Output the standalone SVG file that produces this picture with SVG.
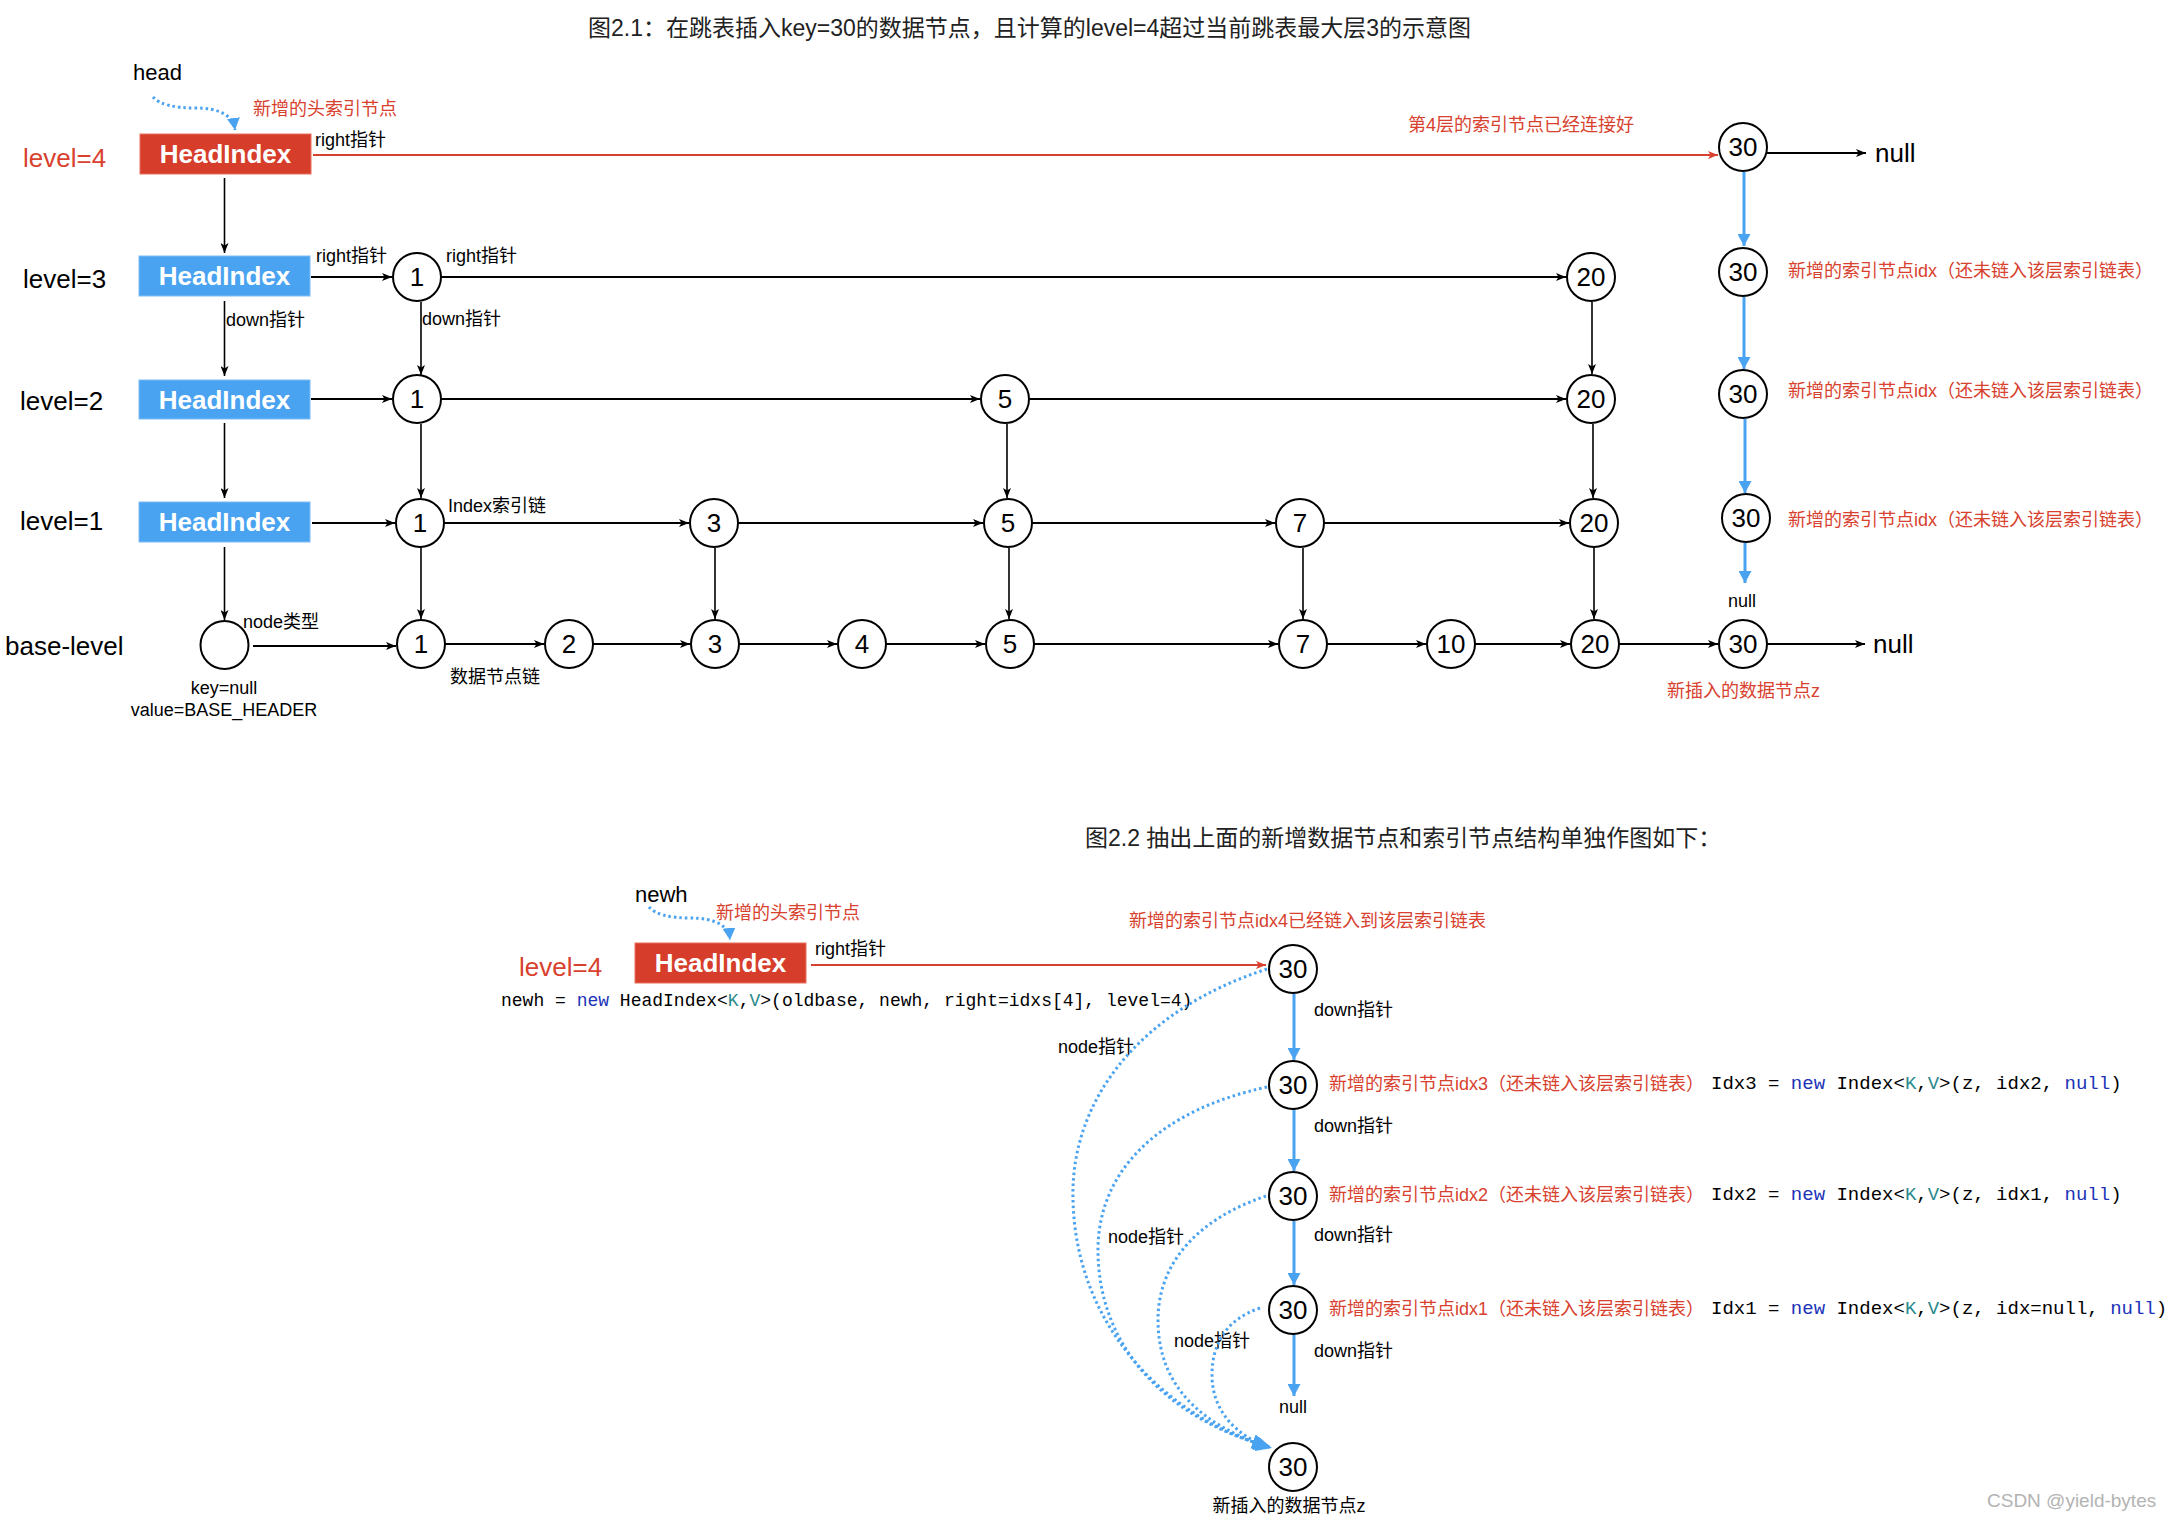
<svg xmlns="http://www.w3.org/2000/svg" width="2173" height="1521" viewBox="0 0 2173 1521">
<style>
text{font-family:"Liberation Sans","Noto Sans CJK SC",sans-serif;fill:#000}
.title{font-size:23px;fill:#222}
.title2{font-size:23px;fill:#222}
.lv{font-size:26px}
.red{fill:#d8412e}
.s18{font-size:18px}
.s175{font-size:18px}
.big{font-size:26px}
.num{font-size:26px;text-anchor:middle}
.hi{font-size:26px;font-weight:bold;fill:#fff;text-anchor:middle}
.mono{font-family:"Liberation Mono","Noto Sans CJK SC",monospace}
.kw{fill:#2033b8}
.ty{fill:#2a8a8c}
.node circle{fill:#fff;stroke:#000;stroke-width:2}
.boxr{fill:#d63d2b;stroke:#e8705f;stroke-width:1}
.boxb{fill:#4aa3f0;stroke:#7cbcf5;stroke-width:1}
.k{stroke:#000;stroke-width:1.8;fill:none}
.kv{stroke:#000;stroke-width:1.6;fill:none}
.r{stroke:#d8412e;stroke-width:2;fill:none}
.b{stroke:#4aa3f0;stroke-width:3;fill:none}
.d{stroke:#4aa3f0;stroke-width:3;fill:none;stroke-dasharray:2.5 3}
</style>
<defs>
<marker id="ak" viewBox="0 0 10 8" refX="10" refY="4" markerWidth="10" markerHeight="8" markerUnits="userSpaceOnUse" orient="auto"><path d="M0,0 L10,4 L0,8 L2.5,4 z" fill="#000"/></marker>
<marker id="ar" viewBox="0 0 10 8" refX="10" refY="4" markerWidth="10" markerHeight="8" markerUnits="userSpaceOnUse" orient="auto"><path d="M0,0 L10,4 L0,8 L2.5,4 z" fill="#d8412e"/></marker>
<marker id="ab" viewBox="0 0 12 13" refX="12" refY="6.5" markerWidth="12" markerHeight="13" markerUnits="userSpaceOnUse" orient="auto"><path d="M0,0 L12,6.5 L0,13 z" fill="#4aa3f0"/></marker>
<marker id="ab2" viewBox="0 0 16 15" refX="16" refY="7.5" markerWidth="16" markerHeight="15" markerUnits="userSpaceOnUse" orient="auto"><path d="M0,0 L16,7.5 L0,15 z" fill="#4aa3f0"/></marker>
</defs>

<!-- titles and free labels -->
<text class="title" x="588" y="36">图2.1：在跳表插入key=30的数据节点，且计算的level=4超过当前跳表最大层3的示意图</text>
<text class="title2" x="1085" y="846">图2.2 抽出上面的新增数据节点和索引节点结构单独作图如下：</text>

<text x="133" y="80" style="font-size:22px">head</text>
<text class="s18 red" x="253" y="115">新增的头索引节点</text>
<text class="lv red" x="23" y="167">level=4</text>
<text class="lv" x="23" y="288">level=3</text>
<text class="lv" x="20" y="410">level=2</text>
<text class="lv" x="20" y="530">level=1</text>
<text class="lv" x="5" y="655">base-level</text>
<text class="s18" x="315" y="146">right指针</text>
<text class="s18" x="316" y="262">right指针</text>
<text class="s18" x="446" y="262">right指针</text>
<text class="s18" x="226" y="326">down指针</text>
<text class="s18" x="422" y="325">down指针</text>
<text class="s18" x="448" y="512">Index索引链</text>
<text class="s18" x="243" y="628">node类型</text>
<text class="s18" x="450" y="683">数据节点链</text>
<text class="s18" x="224" y="694" text-anchor="middle">key=null</text>
<text class="s18" x="224" y="716" text-anchor="middle">value=BASE_HEADER</text>
<text class="s18 red" x="1408" y="131">第4层的索引节点已经连接好</text>
<text class="big" x="1875" y="162">null</text>
<text class="s175 red" x="1788" y="277">新增的索引节点idx（还未链入该层索引链表）</text>
<text class="s175 red" x="1788" y="397">新增的索引节点idx（还未链入该层索引链表）</text>
<text class="s175 red" x="1788" y="526">新增的索引节点idx（还未链入该层索引链表）</text>
<text class="s18" x="1742" y="607" text-anchor="middle">null</text>
<text class="big" x="1873" y="653">null</text>
<text class="s18 red" x="1667" y="697">新插入的数据节点z</text>

<!-- lower diagram labels -->
<text x="635" y="902" style="font-size:22px">newh</text>
<text class="s18 red" x="716" y="919">新增的头索引节点</text>
<text class="lv red" x="519" y="976">level=4</text>
<text class="s18" x="815" y="955">right指针</text>
<text class="mono s18" x="501" y="1006">newh = <tspan class="kw">new</tspan> HeadIndex&lt;<tspan class="ty">K</tspan>,<tspan class="ty">V</tspan>&gt;(oldbase, newh, right=idxs[4], level=4)</text>
<text class="s18 red" x="1129" y="927">新增的索引节点idx4已经链入到该层索引链表</text>
<text class="s18" x="1314" y="1016">down指针</text>
<text class="s18" x="1314" y="1132">down指针</text>
<text class="s18" x="1314" y="1241">down指针</text>
<text class="s18" x="1314" y="1357">down指针</text>
<text class="s175 red" x="1329" y="1090">新增的索引节点idx3（还未链入该层索引链表）</text>
<text class="s175 red" x="1329" y="1201">新增的索引节点idx2（还未链入该层索引链表）</text>
<text class="s175 red" x="1329" y="1315">新增的索引节点idx1（还未链入该层索引链表）</text>
<text class="mono" style="font-size:19px" x="1711" y="1089">Idx3 = <tspan class="kw">new</tspan> Index&lt;<tspan class="ty">K</tspan>,<tspan class="ty">V</tspan>&gt;(z, idx2, <tspan class="kw">null</tspan>)</text>
<text class="mono" style="font-size:19px" x="1711" y="1200">Idx2 = <tspan class="kw">new</tspan> Index&lt;<tspan class="ty">K</tspan>,<tspan class="ty">V</tspan>&gt;(z, idx1, <tspan class="kw">null</tspan>)</text>
<text class="mono" style="font-size:19px" x="1711" y="1314">Idx1 = <tspan class="kw">new</tspan> Index&lt;<tspan class="ty">K</tspan>,<tspan class="ty">V</tspan>&gt;(z, idx=null, <tspan class="kw">null</tspan>)</text>
<text class="s18" x="1058" y="1053">node指针</text>
<text class="s18" x="1108" y="1243">node指针</text>
<text class="s18" x="1174" y="1347">node指针</text>
<text class="s18" x="1293" y="1413" text-anchor="middle">null</text>
<text class="s18" x="1289" y="1512" text-anchor="middle">新插入的数据节点z</text>
<text x="1987" y="1507" style="font-size:19px;fill:#b3b3b3">CSDN @yield-bytes</text>

<!-- connectors -->
<g id="connectors">
  <path class="d" d="M153,97 Q163,108 195,108 Q232,108 235,130" marker-end="url(#ab)"/>
  <path class="r" d="M313,155 H1718" marker-end="url(#ar)"/>
  <path class="k" d="M1767,153 H1866" marker-end="url(#ak)"/>
  <path class="kv" d="M224.5,178 V253" marker-end="url(#ak)"/>
  <path class="kv" d="M224.5,301 V376" marker-end="url(#ak)"/>
  <path class="kv" d="M224.5,423 V498" marker-end="url(#ak)"/>
  <path class="kv" d="M224.5,547 V620" marker-end="url(#ak)"/>
  <path class="k" d="M311,277 H392" marker-end="url(#ak)"/>
  <path class="k" d="M441,277 H1566" marker-end="url(#ak)"/>
  <path class="k" d="M311,399 H392" marker-end="url(#ak)"/>
  <path class="k" d="M441,399 H980" marker-end="url(#ak)"/>
  <path class="k" d="M1029,399 H1566" marker-end="url(#ak)"/>
  <path class="k" d="M312,523 H395" marker-end="url(#ak)"/>
  <path class="k" d="M444,523 H689" marker-end="url(#ak)"/>
  <path class="k" d="M738,523 H983" marker-end="url(#ak)"/>
  <path class="k" d="M1032,523 H1275" marker-end="url(#ak)"/>
  <path class="k" d="M1324,523 H1569" marker-end="url(#ak)"/>
  <path class="k" d="M253,646 H396" marker-end="url(#ak)"/>
  <path class="k" d="M445,644 H544" marker-end="url(#ak)"/>
  <path class="k" d="M593,644 H690" marker-end="url(#ak)"/>
  <path class="k" d="M739,644 H837" marker-end="url(#ak)"/>
  <path class="k" d="M886,644 H985" marker-end="url(#ak)"/>
  <path class="k" d="M1034,644 H1278" marker-end="url(#ak)"/>
  <path class="k" d="M1327,644 H1426" marker-end="url(#ak)"/>
  <path class="k" d="M1475,644 H1570" marker-end="url(#ak)"/>
  <path class="k" d="M1619,644 H1718" marker-end="url(#ak)"/>
  <path class="k" d="M1767,644 H1865" marker-end="url(#ak)"/>
  <path class="kv" d="M421,302 V375" marker-end="url(#ak)"/>
  <path class="kv" d="M421,424 V498" marker-end="url(#ak)"/>
  <path class="kv" d="M421,547 V619" marker-end="url(#ak)"/>
  <path class="kv" d="M715,548 V619" marker-end="url(#ak)"/>
  <path class="kv" d="M1007,424 V498" marker-end="url(#ak)"/>
  <path class="kv" d="M1009,548 V619" marker-end="url(#ak)"/>
  <path class="kv" d="M1303,548 V619" marker-end="url(#ak)"/>
  <path class="kv" d="M1592,302 V374" marker-end="url(#ak)"/>
  <path class="kv" d="M1593,424 V498" marker-end="url(#ak)"/>
  <path class="kv" d="M1594,548 V619" marker-end="url(#ak)"/>
  <path class="b" d="M1744,172 V246" marker-end="url(#ab)"/>
  <path class="b" d="M1744,297 V369" marker-end="url(#ab)"/>
  <path class="b" d="M1745,419 V493" marker-end="url(#ab)"/>
  <path class="b" d="M1745,543 V583" marker-end="url(#ab)"/>
  <!-- lower -->
  <path class="d" d="M649,907 Q659,918 690,918 Q728,918 730,940" marker-end="url(#ab)"/>
  <path class="r" d="M811,965 H1266" marker-end="url(#ar)"/>
  <path class="b" d="M1294,994 V1060" marker-end="url(#ab)"/>
  <path class="b" d="M1294,1109 V1171" marker-end="url(#ab)"/>
  <path class="b" d="M1294,1221 V1285" marker-end="url(#ab)"/>
  <path class="b" d="M1294,1334 V1396" marker-end="url(#ab)"/>
  <path class="d" d="M1267,969 C1140,1010 1070,1100 1073,1200 C1076,1330 1170,1420 1272,1448" marker-end="url(#ab2)"/>
  <path class="d" d="M1267,1087 C1160,1110 1098,1170 1098,1250 C1098,1350 1170,1420 1270,1447" marker-end="url(#ab2)"/>
  <path class="d" d="M1266,1196 C1195,1220 1158,1265 1158,1320 C1158,1385 1200,1425 1269,1447" marker-end="url(#ab2)"/>
  <path class="d" d="M1260,1308 C1225,1320 1212,1345 1212,1375 C1212,1410 1235,1435 1268,1447" marker-end="url(#ab2)"/>
</g>

<!-- head index boxes -->
<g id="hi4"><rect class="boxr" x="140" y="134" width="171" height="40"/><text class="hi" x="225.5" y="163">HeadIndex</text></g>
<g id="hi3"><rect class="boxb" x="139" y="256" width="171" height="40"/><text class="hi" x="224.5" y="285">HeadIndex</text></g>
<g id="hi2"><rect class="boxb" x="139" y="380" width="171" height="39"/><text class="hi" x="224.5" y="408.5">HeadIndex</text></g>
<g id="hi1"><rect class="boxb" x="139" y="502" width="171" height="40"/><text class="hi" x="224.5" y="531">HeadIndex</text></g>
<g id="baseHeader" class="node"><circle cx="224.5" cy="645" r="24"/></g>

<!-- level 4 -->
<g id="l4-30" class="node"><circle cx="1743" cy="147" r="24"/><text class="num" x="1743" y="156">30</text></g>
<!-- level 3 -->
<g id="l3-1" class="node"><circle cx="417" cy="277" r="24"/><text class="num" x="417" y="286">1</text></g>
<g id="l3-20" class="node"><circle cx="1591" cy="277" r="24"/><text class="num" x="1591" y="286">20</text></g>
<g id="l3-30" class="node"><circle cx="1743" cy="272" r="24"/><text class="num" x="1743" y="281">30</text></g>
<!-- level 2 -->
<g id="l2-1" class="node"><circle cx="417" cy="399" r="24"/><text class="num" x="417" y="408">1</text></g>
<g id="l2-5" class="node"><circle cx="1005" cy="399" r="24"/><text class="num" x="1005" y="408">5</text></g>
<g id="l2-20" class="node"><circle cx="1591" cy="399" r="24"/><text class="num" x="1591" y="408">20</text></g>
<g id="l2-30" class="node"><circle cx="1743" cy="394" r="24"/><text class="num" x="1743" y="403">30</text></g>
<!-- level 1 -->
<g id="l1-1" class="node"><circle cx="420" cy="523" r="24"/><text class="num" x="420" y="532">1</text></g>
<g id="l1-3" class="node"><circle cx="714" cy="523" r="24"/><text class="num" x="714" y="532">3</text></g>
<g id="l1-5" class="node"><circle cx="1008" cy="523" r="24"/><text class="num" x="1008" y="532">5</text></g>
<g id="l1-7" class="node"><circle cx="1300" cy="523" r="24"/><text class="num" x="1300" y="532">7</text></g>
<g id="l1-20" class="node"><circle cx="1594" cy="523" r="24"/><text class="num" x="1594" y="532">20</text></g>
<g id="l1-30" class="node"><circle cx="1746" cy="518" r="24"/><text class="num" x="1746" y="527">30</text></g>
<!-- base level -->
<g id="b-1" class="node"><circle cx="421" cy="644" r="24"/><text class="num" x="421" y="653">1</text></g>
<g id="b-2" class="node"><circle cx="569" cy="644" r="24"/><text class="num" x="569" y="653">2</text></g>
<g id="b-3" class="node"><circle cx="715" cy="644" r="24"/><text class="num" x="715" y="653">3</text></g>
<g id="b-4" class="node"><circle cx="862" cy="644" r="24"/><text class="num" x="862" y="653">4</text></g>
<g id="b-5" class="node"><circle cx="1010" cy="644" r="24"/><text class="num" x="1010" y="653">5</text></g>
<g id="b-7" class="node"><circle cx="1303" cy="644" r="24"/><text class="num" x="1303" y="653">7</text></g>
<g id="b-10" class="node"><circle cx="1451" cy="644" r="24"/><text class="num" x="1451" y="653">10</text></g>
<g id="b-20" class="node"><circle cx="1595" cy="644" r="24"/><text class="num" x="1595" y="653">20</text></g>
<g id="b-30" class="node"><circle cx="1743" cy="644" r="24"/><text class="num" x="1743" y="653">30</text></g>

<!-- lower diagram nodes -->
<g id="newh"><rect class="boxr" x="635" y="943" width="171" height="40"/><text class="hi" x="720.5" y="972">HeadIndex</text></g>
<g id="idx4" class="node"><circle cx="1293" cy="969" r="24"/><text class="num" x="1293" y="978">30</text></g>
<g id="idx3" class="node"><circle cx="1293" cy="1085" r="24"/><text class="num" x="1293" y="1094">30</text></g>
<g id="idx2" class="node"><circle cx="1293" cy="1196" r="24"/><text class="num" x="1293" y="1205">30</text></g>
<g id="idx1" class="node"><circle cx="1293" cy="1310" r="24"/><text class="num" x="1293" y="1319">30</text></g>
<g id="z" class="node"><circle cx="1293" cy="1467" r="24"/><text class="num" x="1293" y="1476">30</text></g>
</svg>
